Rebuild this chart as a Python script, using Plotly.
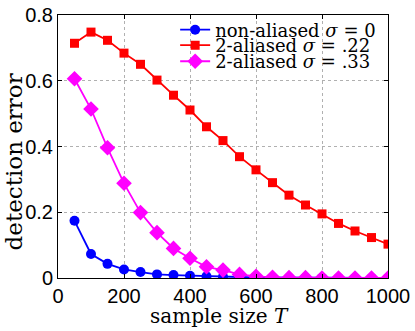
import plotly.graph_objects as go

T = [50, 100, 150, 200, 250, 300, 350, 400, 450, 500, 550, 600, 650, 700, 750, 800, 850, 900, 950, 1000]

non_aliased_0 = [0.174, 0.073, 0.043, 0.026, 0.018, 0.011, 0.009, 0.007, 0.005, 0.004,
                 0.003, 0.002, 0.001, 0.001, 0.001, 0.001, 0.0, 0.0, 0.0, 0.0]
aliased_22 = [0.714, 0.748, 0.723, 0.684, 0.650, 0.602, 0.556, 0.511, 0.460, 0.418,
              0.369, 0.329, 0.290, 0.252, 0.222, 0.195, 0.166, 0.143, 0.123, 0.103]
aliased_33 = [0.606, 0.514, 0.396, 0.288, 0.199, 0.138, 0.090, 0.060, 0.034, 0.024,
              0.011, 0.005, 0.002, 0.001, 0.001, 0.0, 0.0, 0.0, 0.0, 0.0]

x_ticks = [0, 200, 400, 600, 800, 1000]
y_ticks = [0, 0.2, 0.4, 0.6, 0.8]
y_tick_text = ["0", "0.2", "0.4", "0.6", "0.8"]

serif = "DejaVu Serif"
sans = "Liberation Sans"

fig = go.Figure()
fig.add_trace(go.Scatter(x=T, y=non_aliased_0, mode="lines+markers",
                         name="non-aliased <i>σ</i> = 0", legend="legend",
                         line=dict(color="#0000ff", width=1.8),
                         marker=dict(symbol="circle", size=10, color="#0000ff")))
fig.add_trace(go.Scatter(x=T, y=aliased_22, mode="lines+markers",
                         name="2-aliased <i>σ</i> = .22", legend="legend2",
                         line=dict(color="#ff0000", width=1.8),
                         marker=dict(symbol="square", size=9, color="#ff0000")))
fig.add_trace(go.Scatter(x=T, y=aliased_33, mode="lines+markers",
                         name="2-aliased <i>σ</i> = .33", legend="legend3",
                         line=dict(color="#ff00ff", width=1.8),
                         marker=dict(symbol="diamond", size=12, color="#ff00ff")))

axis_common = dict(showline=True, linecolor="black", linewidth=1, mirror="ticks",
                   ticks="inside", ticklen=4, tickcolor="black",
                   showgrid=True, gridcolor="#b0b0b0", griddash="dot", gridwidth=1,
                   zeroline=False, tickfont=dict(family=sans, size=20, color="black"))

fig.update_xaxes(range=[0, 1000], tickvals=x_ticks, **axis_common)
fig.update_yaxes(range=[0, 0.8], tickvals=y_ticks, ticktext=y_tick_text, **axis_common)

# one legend per series so the rows can sit as tightly as in the original
leg = dict(x=0.355, xanchor="left", yanchor="middle",
           bgcolor="rgba(255,255,255,0)", borderwidth=0,
           font=dict(family=serif, size=18, color="black"), itemwidth=30)

fig.update_layout(
    width=415, height=331,
    # no autoexpand: the legends near the top must not push the plot down
    margin=dict(l=58, r=27, t=15, b=53, autoexpand=False),
    plot_bgcolor="white", paper_bgcolor="white",
    showlegend=True,
    legend=dict(leg, y=0.943),
    legend2=dict(leg, y=0.884),
    legend3=dict(leg, y=0.823),
    annotations=[
        dict(text="sample size <i>T</i>", xref="paper", yref="paper", x=0.49, y=-0.145,
             xanchor="center", yanchor="middle", showarrow=False,
             font=dict(family=serif, size=20, color="black")),
        dict(text="detection error", xref="paper", yref="paper", x=-0.133, y=0.44,
             xanchor="center", yanchor="middle", showarrow=False, textangle=-90,
             font=dict(family=serif, size=23, color="black")),
    ],
)

# page body has an 8px default margin, drop it so the figure sits at the corner
fig.write_html("out.html", config={"displayModeBar": False},
               post_script="document.body.style.margin='0';")
